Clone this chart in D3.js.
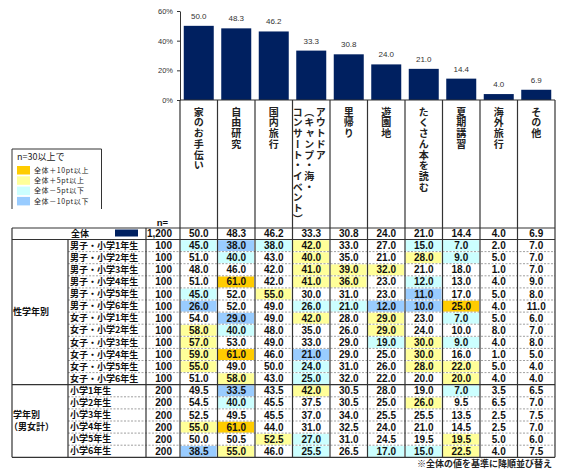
<!DOCTYPE html>
<html><head><meta charset="utf-8">
<script src="https://cdn.jsdelivr.net/npm/d3@7"></script>
<style>
html,body{margin:0;padding:0;background:#fff;}
svg{display:block;}
text{font-family:"Noto Sans CJK JP","Liberation Sans",sans-serif;}
.num{font-family:"Liberation Sans",Arial,sans-serif;}
</style></head><body>
<svg id="c" width="567" height="469"></svg>
<script>
// ---------- data ----------
const categories = ["家のお手伝い","自由研究","国内旅行","アウトドア（キャンプ・海・コンサート・イベント）","里帰り","遊園地","たくさん本を読む","夏期講習","海外旅行","その他"];
const categoryLines = [["家のお手伝い"],["自由研究"],["国内旅行"],["アウトドア","（キャンプ・海・","コンサート・イベント）"],["里帰り"],["遊園地"],["たくさん本を読む"],["夏期講習"],["海外旅行"],["その他"]];
const overall = [50.0,48.3,46.2,33.3,30.8,24.0,21.0,14.4,4.0,6.9];
const overallLabel = "全体";
const overallN = "1,200";
const yTicks = [0,20,40,60];
const groupLabels = [["性学年別"],["学年別","（男女計）"]];
const groupSizes = [12,6];
const rowLabels = ["男子・小学1年生","男子・小学2年生","男子・小学3年生","男子・小学4年生","男子・小学5年生","男子・小学6年生",
  "女子・小学1年生","女子・小学2年生","女子・小学3年生","女子・小学4年生","女子・小学5年生","女子・小学6年生",
  "小学1年生","小学2年生","小学3年生","小学4年生","小学5年生","小学6年生"];
const rowN = [100,100,100,100,100,100,100,100,100,100,100,100,200,200,200,200,200,200];
const rowValues = [
  [45.0,38.0,38.0,42.0,33.0,27.0,15.0,7.0,2.0,7.0],
  [51.0,40.0,43.0,40.0,35.0,21.0,28.0,9.0,5.0,7.0],
  [48.0,46.0,42.0,41.0,39.0,32.0,21.0,18.0,1.0,7.0],
  [51.0,61.0,42.0,41.0,36.0,23.0,12.0,13.0,4.0,9.0],
  [45.0,52.0,55.0,30.0,31.0,23.0,11.0,17.0,5.0,8.0],
  [26.0,52.0,49.0,26.0,21.0,12.0,10.0,25.0,4.0,11.0],
  [54.0,29.0,49.0,42.0,28.0,29.0,23.0,7.0,5.0,6.0],
  [58.0,40.0,48.0,35.0,26.0,29.0,24.0,10.0,8.0,7.0],
  [57.0,53.0,49.0,33.0,29.0,19.0,30.0,9.0,4.0,8.0],
  [59.0,61.0,46.0,21.0,29.0,25.0,30.0,16.0,1.0,5.0],
  [55.0,49.0,50.0,24.0,31.0,26.0,28.0,22.0,5.0,4.0],
  [51.0,58.0,43.0,25.0,32.0,22.0,20.0,20.0,4.0,4.0],
  [49.5,33.5,43.5,42.0,30.5,28.0,19.0,7.0,3.5,6.5],
  [54.5,40.0,45.5,37.5,30.5,25.0,26.0,9.5,6.5,7.0],
  [52.5,49.5,45.5,37.0,34.0,25.5,25.5,13.5,2.5,7.5],
  [55.0,61.0,44.0,31.0,32.5,24.0,21.0,14.5,2.5,7.0],
  [50.0,50.5,52.5,27.0,31.0,24.5,19.5,19.5,5.0,6.0],
  [38.5,55.0,46.0,25.5,26.5,17.0,15.0,22.5,4.0,7.5]
];
const legendTitle = "n=30以上で";
const legendLabels = ["全体＋10pt以上","全体＋5pt以上","全体－5pt以下","全体－10pt以下"];
const legendColors = ["#FFCC00","#FFFF99","#CCFFFF","#99CCFF"];
const footnote = "※全体の値を基準に降順並び替え";

// ---------- layout ----------
const svg = d3.select("#c");
const barColor = "#002060";
const lineColor = "#333";
const xL = 12, xSub = 68, xN = 146, xV = 180, xR = 555;
const tableTop = 228, headBot = 239.5, rowH = 12.1;
const nRows = rowLabels.length;
const tableBot = headBot + nRows * rowH;

const x = d3.scaleBand().domain(categories).range([xV, xR]).paddingInner(0.2).paddingOuter(0.1);
const step = x.step();
const colX = i => xV + i * step;
const y = d3.scaleLinear().domain([0, 60]).range([100, 11]);

// bars
svg.append("g").selectAll("rect").data(overall).join("rect")
  .attr("x", (d,i) => x(categories[i])).attr("width", x.bandwidth())
  .attr("y", d => y(d)).attr("height", d => y(0) - y(d))
  .attr("fill", barColor);
svg.append("g").selectAll("text").data(overall).join("text")
  .attr("class","num")
  .attr("x", (d,i) => x(categories[i]) + x.bandwidth()/2)
  .attr("y", d => y(d) - 7)
  .attr("text-anchor","middle").attr("font-size", 8).attr("fill","#333")
  .text(d => d.toFixed(1));

// y axis
const yAxis = d3.axisLeft(y).tickValues(yTicks).tickFormat(d => d + "%").tickSizeInner(3).tickSizeOuter(0);
const ga = svg.append("g").attr("transform", `translate(${xV},0)`).call(yAxis);
ga.select(".domain").attr("stroke", lineColor);
ga.selectAll(".tick line").attr("stroke", lineColor);
ga.selectAll(".tick text").attr("class","num").attr("font-size", 7.5).attr("fill","#333").attr("x",-7);

// x baseline
svg.append("line").attr("x1", xV).attr("x2", xR).attr("y1", y(0)).attr("y2", y(0))
  .attr("stroke", lineColor).attr("stroke-width", 1.2);

// category labels (vertical)
categoryLines.forEach((lines, i) => {
  const cx = colX(i) + step/2;
  const n = lines.length;
  lines.forEach((t, k) => {
    const off = n === 1 ? 0 : (-2 + (1 - k) * 11.6);
    svg.append("text")
      .attr("x", cx + off).attr("y", 107)
      .style("writing-mode","vertical-rl")
      .attr("font-size", 10).attr("font-weight","bold").attr("letter-spacing", 0.7)
      .attr("fill","#222")
      .text(t);
  });
});

// cell fills
function cellColor(v, j) {
  const d = Math.round((v - overall[j]) * 10) / 10;
  if (d >= 10) return legendColors[0];
  if (d >= 5) return legendColors[1];
  if (d <= -10) return legendColors[3];
  if (d <= -5) return legendColors[2];
  return null;
}
const rowTop = r => headBot + r * rowH;
rowValues.forEach((vals, r) => {
  vals.forEach((v, j) => {
    const c = cellColor(v, j);
    if (c) svg.append("rect").attr("x", colX(j) + 0.5).attr("width", step - 1.5)
      .attr("y", rowTop(r) + 0.7).attr("height", rowH - 1.2).attr("fill", c);
  });
});

// dashed row separators
let acc = 0;
const groupStarts = groupSizes.map(s => { const a = acc; acc += s; return a; });
for (let r = 1; r < nRows; r++) {
  if (groupStarts.includes(r)) continue;
  svg.append("line").attr("x1", xSub).attr("x2", xR)
    .attr("y1", rowTop(r)).attr("y2", rowTop(r))
    .attr("stroke","#888").attr("stroke-width",0.8).attr("stroke-dasharray","2,1.5");
}
// solid horizontal lines
[tableTop, headBot, ...groupStarts.slice(1).map(rowTop), tableBot].forEach(yy => {
  svg.append("line").attr("x1", xL).attr("x2", xR).attr("y1", yy).attr("y2", yy)
    .attr("stroke", lineColor).attr("stroke-width", 1.2);
});
// vertical lines
svg.append("line").attr("x1", xL).attr("x2", xL).attr("y1", tableTop).attr("y2", tableBot).attr("stroke", lineColor).attr("stroke-width",1.2);
svg.append("line").attr("x1", xSub).attr("x2", xSub).attr("y1", headBot).attr("y2", tableBot).attr("stroke", lineColor).attr("stroke-width",1.2);
svg.append("line").attr("x1", xN).attr("x2", xN).attr("y1", tableTop).attr("y2", tableBot).attr("stroke", lineColor).attr("stroke-width",1.2);
for (let j = 0; j <= categories.length; j++) {
  svg.append("line").attr("x1", colX(j)).attr("x2", colX(j)).attr("y1", y(0)).attr("y2", tableBot)
    .attr("stroke", lineColor).attr("stroke-width", 1.2);
}

// header row (全体)
svg.append("text").attr("x", 80).attr("y", (tableTop + headBot)/2).attr("dy","0.35em")
  .attr("text-anchor","middle").attr("font-size",9).attr("font-weight","bold").attr("fill","#111").text(overallLabel);
svg.append("rect").attr("x",115).attr("y",229.5).attr("width",23).attr("height",7).attr("fill",barColor);
svg.append("text").attr("class","num").attr("x", 172).attr("y",(tableTop + headBot)/2).attr("dy","0.35em")
  .attr("text-anchor","end").attr("font-size",10).attr("font-weight","bold").attr("fill","#111").text(overallN);
svg.append("text").attr("class","num").attr("x", 168).attr("y", 222.5).attr("dy","0.35em")
  .attr("text-anchor","end").attr("font-size",9.5).attr("font-weight","bold").attr("fill","#111").text("n=");
svg.append("g").selectAll("text").data(overall).join("text").attr("class","num")
  .attr("x",(d,j) => colX(j) + step/2).attr("y",(tableTop + headBot)/2).attr("dy","0.35em")
  .attr("text-anchor","middle").attr("font-size",10).attr("font-weight","bold").attr("fill","#111")
  .text(d => d.toFixed(1));

// row labels, n, values
rowLabels.forEach((lab, r) => {
  const cy = rowTop(r) + rowH/2;
  svg.append("text").attr("x", 70).attr("y", cy).attr("dy","0.36em")
    .attr("font-size",9).attr("font-weight","bold").attr("fill","#111").text(lab);
  svg.append("text").attr("class","num").attr("x", 172).attr("y", cy).attr("dy","0.36em")
    .attr("text-anchor","end").attr("font-size",10).attr("font-weight","bold").attr("fill","#111").text(rowN[r]);
  rowValues[r].forEach((v, j) => {
    svg.append("text").attr("class","num").attr("x", colX(j) + step/2).attr("y", cy).attr("dy","0.36em")
      .attr("text-anchor","middle").attr("font-size",10).attr("font-weight","bold").attr("fill","#111")
      .text(v.toFixed(1));
  });
});

// group labels
groupLabels.forEach((lines, g) => {
  const top = rowTop(groupStarts[g]);
  const cy = top + groupSizes[g] * rowH / 2;
  lines.forEach((t, k) => {
    const yy = cy + (k - (lines.length - 1)/2) * 11.5;
    svg.append("text").attr("x", t.startsWith("（") ? 9 : 13).attr("y", yy).attr("dy","0.36em")
      .attr("font-size",9).attr("font-weight","bold").attr("fill","#111").text(t);
  });
});

// legend
svg.append("path").attr("d", `M12,209V149H101.5V209`).attr("fill","none").attr("stroke",lineColor).attr("stroke-width",1);
svg.append("text").attr("x",17).attr("y",157).attr("dy","0.35em").attr("font-size",9).attr("fill","#222").text(legendTitle);
legendLabels.forEach((t, i) => {
  const yy = 166 + i * 10.3;
  svg.append("rect").attr("x",17).attr("y",yy).attr("width",13).attr("height",8.5).attr("fill",legendColors[i]);
  svg.append("text").attr("x",34).attr("y",yy+4.3).attr("dy","0.35em").attr("font-size",7).attr("letter-spacing",0.6)
    .attr("fill","#222").text(t);
});

// footnote
svg.append("text").attr("x",552).attr("y",463.5).attr("dy","0.35em").attr("text-anchor","end")
  .attr("font-size",9).attr("font-weight","bold").attr("fill","#222").text(footnote);
</script>
</body></html>
